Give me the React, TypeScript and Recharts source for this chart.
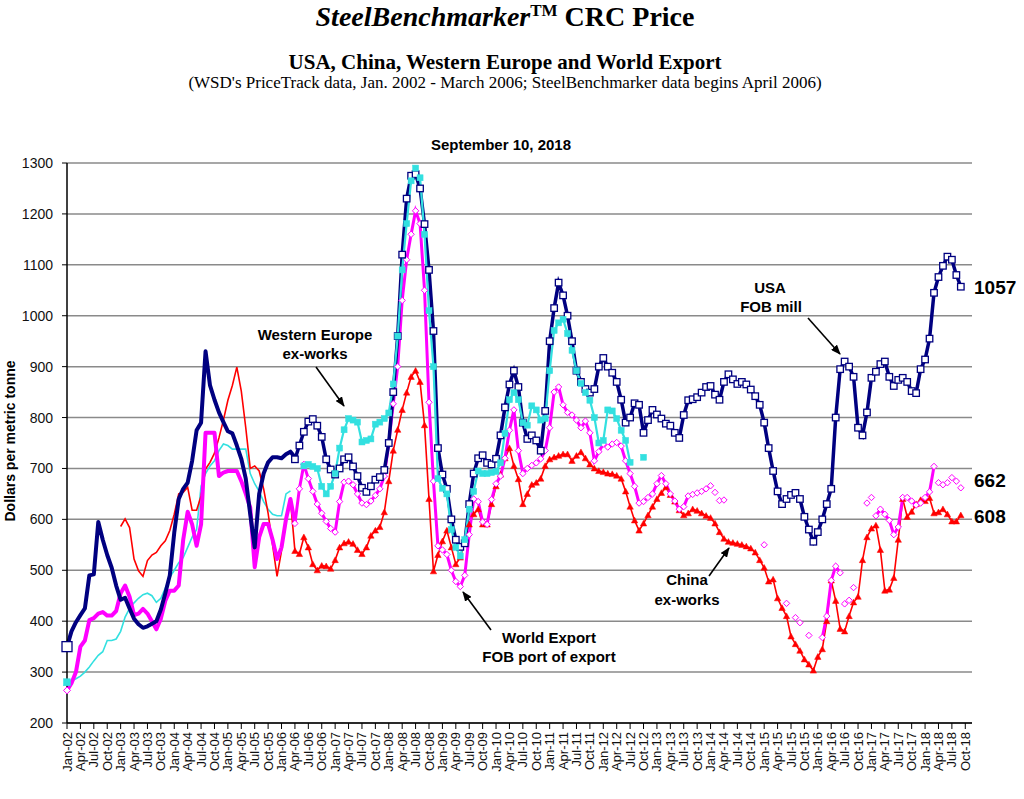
import React from 'react';
import { LineChart, Line, XAxis, YAxis, CartesianGrid } from 'recharts';

// ---- axis / labels ----
const MONTH_NAMES = ['Jan', 'Apr', 'Jul', 'Oct'];
const FIRST_YEAR = 2; // 2002
const LAST_INDEX = 200; // Sep-2018 (month index from Jan-2002)
const X_TICKS = Array.from({ length: 68 }, (_, k) => k * 3);
const Y_TICKS = [200, 300, 400, 500, 600, 700, 800, 900, 1000, 1100, 1200, 1300];

// ---- WSD PriceTrack data (Jan 2002 - Apr 2006), monthly, start index 0 ----
const usaOld = [
  350, 380, 398, 412, 425, 490, 492, 595, 560, 530, 505,
  470, 442, 446, 425, 405, 394, 387, 390, 395, 400,
  423, 455, 490, 574, 640, 660, 672, 715, 775, 790,
  930, 863, 835, 810, 791, 773, 769, 745, 719, 680,
  610, 545, 650, 690, 712, 722, 722, 720, 728, 733, 722,
];
const worldOld = [
  264, 278, 300, 350, 362, 402, 406, 415, 418, 411, 411,
  420, 455, 470, 448, 412, 415, 424, 415, 400, 384,
  405, 440, 460, 460, 470, 560, 615, 590, 548, 590,
  770, 770, 770, 685, 692, 695, 695, 695, 675, 650,
  623, 506, 565, 591, 591, 560, 522, 545, 600, 640, 592,
];
const europeOld = [
  280, 283, 287, 292, 300, 310, 322, 333, 340, 362, 362,
  365, 380, 408, 425, 436, 445, 452, 455, 450, 437,
  445, 465, 486, 500, 515, 525, 545, 565, 580, 665,
  690, 705, 715, 735, 748, 745, 738, 738, 738, 738,
  690, 670, 655, 635, 620, 610, 607, 607, 650, 656,
];
const CHINA_OLD_START = 12;
const chinaOld = [
  586, 601, 584, 522, 499, 488, 519, 530, 535, 548,
  558, 578, 610, 650, 653, 663, 618, 618, 646, 699,
  712, 730, 760, 795, 834, 863, 899, 852, 780, 700,
  705, 695, 660, 612, 550, 488, 538, 600, 638, 538,
];

// ---- SteelBenchmarker data (Apr 2006 - Sep 2018), monthly ----
const USA_NEW_START = 51;
const usaNew = [
  718, 745, 772, 792, 797, 784, 762, 718, 698, 688,
  700, 718, 722, 704, 685, 662, 654, 665, 678, 683,
  697, 750, 850, 960, 1120, 1230, 1275, 1278, 1250, 1180,
  1090, 970, 740, 688, 660, 600, 560, 546, 553, 630,
  690, 720, 726, 711, 708, 719, 765, 820, 865, 892,
  860, 790, 758, 765, 755, 735, 813, 950, 1015, 1065,
  1040, 1000, 950, 892, 870, 856, 849, 856, 900, 917,
  900, 888, 870, 835, 790, 800, 828, 825, 770, 795,
  815, 806, 798, 788, 784, 770, 760, 805, 834, 836,
  840, 849, 860, 862, 845, 835, 870, 885, 875, 866,
  870, 865, 855, 842, 825, 790, 740, 695, 655, 630,
  640, 648, 652, 640, 605, 580, 556, 575, 600, 630,
  660, 800, 895, 910, 900, 880, 780, 765, 810, 878,
  890, 905, 910, 880, 862, 874, 878, 870, 852, 848,
  895, 914, 955, 1045, 1076, 1098, 1116, 1110, 1080, 1057,
];
const EUROPE_NEW_START = 53;
const europeNew = [
  705, 708, 704, 700, 665, 650, 665, 690,
  740, 776, 798, 795, 791, 752, 755, 758, 787, 791,
  798, 809, 866, 960, 1090, 1181, 1265, 1290, 1271, 1160,
  1010, 900, 680, 661, 650, 580, 545, 528, 560, 620,
  655, 695, 690, 690, 692, 694, 711, 769, 835, 849,
  835, 790, 785, 823, 815, 795, 798, 892, 971, 986,
  993, 965, 932, 892, 867, 849, 834, 800, 750, 755,
  815, 813, 798, 775, 755, 712,
];
const EUROPE_LATE_START = 129;
const europeLate = [722];

const WORLD_NEW_START = 51;
const worldNewA = [
  592, 660, 708, 680, 655, 630, 612, 596, 582, 575,
  635, 673, 675, 668, 650, 632, 629, 636, 647, 660,
  685, 750, 827, 900, 1030, 1110, 1160, 1206, 1181, 1050,
  830, 675, 548, 540, 531, 500, 478, 468, 490, 570,
  640, 635, 595, 590, 639, 670, 685, 720, 775, 815,
  735, 690, 700, 706, 711, 719, 735, 780, 850, 860,
  825, 810, 805, 795, 780, 793, 770, 715, 733, 748,
  742, 748, 751, 744, 715, 690, 665, 632, 635, 643,
  650, 670, 686, 670, 650, 636, 620, 625, 646, 649,
  652, 655, 660, 666,
];
const WORLD_NEW_B_START = 169;
const worldNewB = [368, 410, 480, 508, 495];
const WORLD_NEW_C_START = 181;
const worldNewC = [607, 620, 610, 598, 570, 585, 643, 643, 636, 628, 632, 643, 654, 704];
// isolated World Export points: [month index, value]
const worldScatter: [number, number][] = [
  [145, 653], [146, 637], [147, 638], [156, 550], [161, 435], [163, 407], [164, 397],
  [166, 372], [174, 434], [175, 441], [176, 466], [179, 632], [180, 643],
  [195, 672], [196, 668], [197, 672], [198, 682], [199, 675], [200, 662],
];

const CHINA_NEW_START = 51;
const chinaNew = [
  538, 532, 565, 545, 512, 500, 509, 508, 503, 520,
  545, 553, 556, 552, 540, 532, 545, 568, 578, 585,
  614, 675, 735, 776, 815, 849, 880, 892, 870, 785,
  640, 498, 530, 557, 578, 545, 512, 525, 556, 590,
  610, 620, 590, 590, 630, 665, 688, 720, 740, 705,
  679, 630, 650, 668, 672, 680, 705, 718, 722, 725,
  728, 728, 715, 725, 732, 720, 708, 700, 695, 693,
  690, 689, 686, 680, 655, 625, 598, 578, 592, 608,
  625, 640, 652, 663, 648, 635, 618, 608, 612, 620,
  617, 612, 607, 603, 592, 575, 562, 556, 554, 552,
  550, 547, 543, 535, 520, 505, 478, 482, 445, 426,
  410, 370, 355, 342, 325, 315, 303, 330, 345, 400,
  480, 440, 385, 380, 410, 437, 448, 520, 565, 582,
  588, 540, 460, 462, 485, 560, 640, 605, 615, 630,
  638, 636, 642, 612, 614, 620, 610, 596, 596, 608,
];

const at = (arr: number[], start: number, i: number) => {
  const k = i - start;
  return k >= 0 && k < arr.length ? arr[k] : null;
};
const scatterAt = (i: number) => {
  const f = worldScatter.find((p) => p[0] === i);
  return f ? f[1] : null;
};

const rows = Array.from({ length: LAST_INDEX + 1 }, (_, i) => ({
  i,
  usaOld: at(usaOld, 0, i),
  worldOld: at(worldOld, 0, i),
  europeOld: at(europeOld, 0, i),
  chinaOld: at(chinaOld, CHINA_OLD_START, i),
  usaNew: at(usaNew, USA_NEW_START, i),
  europeNew: at(europeNew, EUROPE_NEW_START, i),
  europeLate: at(europeLate, EUROPE_LATE_START, i),
  worldNew:
    at(worldNewA, WORLD_NEW_START, i) ?? at(worldNewB, WORLD_NEW_B_START, i) ?? at(worldNewC, WORLD_NEW_C_START, i),
  worldDots: scatterAt(i),
  chinaNew: at(chinaNew, CHINA_NEW_START, i),
}));

// ---- colours ----
const NAVY = '#000080';
const MAGENTA = '#FF00FF';
const CYAN = '#33E0E0';
const RED = '#FF0000';
const SANS = "Arial, 'Liberation Sans', sans-serif";
const SERIF = "'Times New Roman', 'Liberation Serif', serif";

const blank = (p: any) => <g key={`b-${p.index}`} />;
const isBlank = (p: any) => p.cy == null || p.cx == null || Number.isNaN(p.cy);

const openSquare = (size: number) => (p: any) =>
  isBlank(p) ? blank(p) : (
    <rect key={`s-${p.index}`} x={p.cx - size / 2} y={p.cy - size / 2} width={size} height={size}
      fill="#fff" stroke={NAVY} strokeWidth={1.3} />
  );
const filledSquare = (size: number) => (p: any) =>
  isBlank(p) ? blank(p) : (
    <rect key={`c-${p.index}`} x={p.cx - size / 2} y={p.cy - size / 2} width={size} height={size}
      fill={CYAN} stroke={CYAN} strokeWidth={0.5} />
  );
const diamond = (r: number) => (p: any) =>
  isBlank(p) ? blank(p) : (
    <polygon key={`d-${p.index}`}
      points={`${p.cx},${p.cy - r} ${p.cx + r},${p.cy} ${p.cx},${p.cy + r} ${p.cx - r},${p.cy}`}
      fill="#fff" stroke={MAGENTA} strokeWidth={1} />
  );
const triangle = (r: number) => (p: any) =>
  isBlank(p) ? blank(p) : (
    <polygon key={`t-${p.index}`}
      points={`${p.cx},${p.cy - r} ${p.cx + r},${p.cy + r * 0.8} ${p.cx - r},${p.cy + r * 0.8}`}
      fill={RED} stroke={RED} strokeWidth={0.5} />
  );
const firstOnly = (fn: (p: any) => any) => (p: any) => (p.index === 0 ? fn(p) : blank(p));

const XTick = (props: any) => {
  const { x, y, payload } = props;
  const v = payload.value as number;
  const label = `${MONTH_NAMES[(v / 3) % 4]}-${String(FIRST_YEAR + Math.floor(v / 12)).padStart(2, '0')}`;
  return (
    <text x={x} y={y} transform={`rotate(-90 ${x} ${y})`} textAnchor="end" dominantBaseline="central"
      fontFamily={SANS} fontSize={13} fill="#111">
      {label}
    </text>
  );
};
const YTick = (props: any) => {
  const { x, y, payload } = props;
  return (
    <text x={x} y={y} textAnchor="end" dominantBaseline="central" fontFamily={SANS} fontSize={14} fill="#111">
      {payload.value}
    </text>
  );
};

const Arrow = ({ x1, y1, x2, y2 }: { x1: number; y1: number; x2: number; y2: number }) => (
  <line x1={x1} y1={y1} x2={x2} y2={y2} stroke="#000" strokeWidth={1.6} markerEnd="url(#arrowhead)" />
);

export default function App() {
  const common = { type: 'linear' as const, isAnimationActive: false, activeDot: false as const, connectNulls: false };
  return (
    <div style={{ position: 'absolute', left: 0, top: 0, width: 1024, height: 799, background: '#fff' }}>
      <LineChart width={1024} height={799} data={rows} margin={{ top: 163, right: 52, bottom: 16, left: 7 }}>
        <CartesianGrid vertical={false} stroke="#8a8a8a" strokeWidth={1.5} />
        <XAxis dataKey="i" type="number" domain={[0, 202.5]} ticks={X_TICKS} interval={0}
          tick={<XTick />} tickSize={6} tickMargin={3} height={60}
          axisLine={{ stroke: '#000', strokeWidth: 1.5 }} tickLine={{ stroke: '#000', strokeWidth: 1 }} />
        <YAxis type="number" domain={[200, 1300]} ticks={Y_TICKS} interval={0} width={60}
          tick={<YTick />} tickSize={5} tickMargin={9}
          axisLine={{ stroke: '#000', strokeWidth: 1.5 }} tickLine={{ stroke: '#000', strokeWidth: 1 }} />

        <Line {...common} dataKey="europeOld" stroke={CYAN} strokeWidth={1.6} dot={firstOnly(filledSquare(7))} />
        <Line {...common} dataKey="chinaOld" stroke={RED} strokeWidth={1.6} dot={false} />
        <Line {...common} dataKey="worldOld" stroke={MAGENTA} strokeWidth={4} strokeLinejoin="round" dot={firstOnly(diamond(3.5))} />
        <Line {...common} dataKey="usaOld" stroke={NAVY} strokeWidth={4} strokeLinejoin="round" dot={firstOnly(openSquare(10))} />

        <Line {...common} dataKey="chinaNew" stroke={RED} strokeWidth={1.6} dot={triangle(3.2)} />
        <Line {...common} dataKey="worldNew" stroke={MAGENTA} strokeWidth={3} dot={diamond(3.2)} />
        <Line {...common} dataKey="worldDots" stroke="none" dot={diamond(3.2)} />
        <Line {...common} dataKey="usaNew" stroke={NAVY} strokeWidth={3.5} dot={openSquare(6.5)} />
        <Line {...common} dataKey="europeNew" stroke={CYAN} strokeWidth={2.2} dot={filledSquare(6)} />
        <Line {...common} dataKey="europeLate" stroke="none" dot={filledSquare(6)} />
      </LineChart>

      <svg width={1024} height={799} style={{ position: 'absolute', left: 0, top: 0, pointerEvents: 'none' }}>
        <defs>
          <marker id="arrowhead" markerWidth="10" markerHeight="8" refX="9" refY="4" orient="auto" markerUnits="userSpaceOnUse">
            <path d="M0,0 L10,4 L0,8 z" fill="#000" />
          </marker>
        </defs>
        <text x={505} y={26} textAnchor="middle" fontFamily={SERIF} fontWeight="bold" fontSize={28} fill="#000">
          <tspan fontStyle="italic">SteelBenchmarker</tspan>
          <tspan fontSize={17} dy={-10}>TM</tspan>
          <tspan dy={10}> CRC Price</tspan>
        </text>
        <text x={505} y={69} textAnchor="middle" fontFamily={SERIF} fontWeight="bold" fontSize={21} fill="#000">
          USA, China, Western Europe and World Export
        </text>
        <text x={505} y={88} textAnchor="middle" fontFamily={SERIF} fontSize={17} fill="#000">
          (WSD's PriceTrack data, Jan. 2002 - March 2006; SteelBenchmarker data begins April 2006)
        </text>
        <text x={501} y={150} textAnchor="middle" fontFamily={SANS} fontWeight="bold" fontSize={15} fill="#000">
          September 10, 2018
        </text>
        <text transform="translate(15,441) rotate(-90)" textAnchor="middle" fontFamily={SANS} fontWeight="bold" fontSize={14} fill="#000">
          Dollars per metric tonne
        </text>

        <g fontFamily={SANS} fontWeight="bold" fontSize={15} fill="#000" textAnchor="middle">
          <text x={315} y={340}>Western Europe</text>
          <text x={315} y={359}>ex-works</text>
          <text x={770} y={293}>USA</text>
          <text x={771} y={312}>FOB mill</text>
          <text x={549} y={643}>World Export</text>
          <text x={549} y={662}>FOB port of export</text>
          <text x={687} y={585}>China</text>
          <text x={687} y={605}>ex-works</text>
        </g>
        <Arrow x1={316} y1={367} x2={344} y2={406} />
        <Arrow x1={808} y1={318} x2={840} y2={354} />
        <Arrow x1={491} y1={630} x2={463} y2={592} />
        <Arrow x1={709} y1={576} x2={729} y2={548} />

        <g fontFamily={SANS} fontWeight="bold" fontSize={19} fill="#000">
          <text x={974} y={294}>1057</text>
          <text x={974} y={487}>662</text>
          <text x={974} y={523}>608</text>
        </g>
      </svg>
    </div>
  );
}
